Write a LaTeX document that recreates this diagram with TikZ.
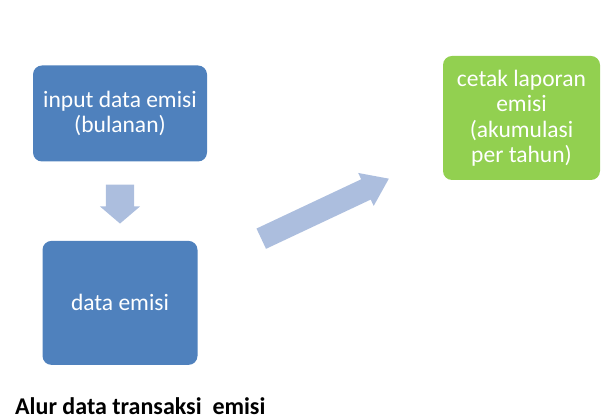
\documentclass[tikz,border=0pt]{standalone}
\usepackage{fontspec}
\setmainfont{Carlito}
\usepackage{xcolor}
\usepackage{tikz}
\usetikzlibrary{arrows.meta,positioning}
\usetikzlibrary{calc,shapes.arrows}

\definecolor{boxblue}{RGB}{79,129,189}
\definecolor{boxgreen}{RGB}{146,208,80}
\definecolor{arrowblue}{RGB}{172,190,222}

\begin{document}
\begin{tikzpicture}[
                    x=1pt, y=1pt,
                    every node/.style={scale=1.0},
                    process/.style={rectangle, rounded corners=9pt, fill=boxblue, text=white, align=center, inner sep=3pt, font=\fontsize{23.5}{25.5}\selectfont},
                    report/.style={process, fill=boxgreen},
                    blockarrow/.style={single arrow, fill=arrowblue, inner xsep=0pt},
                    caption/.style={font=\fontsize{24}{26}\selectfont\bfseries, inner sep=0pt, anchor=base west}
                ]
                    \useasboundingbox (0,0) rectangle (614,419);
                    % Steps
                    \node[process, minimum width=174pt, minimum height=96pt] (Input) at (120,305.5) {input data emisi\\(bulanan)};
                    \node[process, minimum width=155pt, minimum height=124pt, below=79pt of Input] (Data) {data emisi};
                    \node[report, minimum width=157pt, minimum height=124pt] (Report) at (521.5,301) {cetak laporan\\emisi\\(akumulasi\\per tahun)};
                    \node[caption] (Title) at (15,4.5) {Alur data transaksi\ \ emisi};

                    % Block arrows
                    \node[blockarrow, rotate=-90, inner ysep=14pt, minimum height=39pt, minimum width=40pt, single arrow head extend=6pt, single arrow tip angle=99] (Down) at (120,221) {};
                    \node[blockarrow, rotate=25.2, inner ysep=11pt, minimum height=141pt, minimum width=36pt, single arrow head extend=7pt, single arrow tip angle=71.5] (Forward) at (318,207) {};
                \end{tikzpicture}
\end{document}
